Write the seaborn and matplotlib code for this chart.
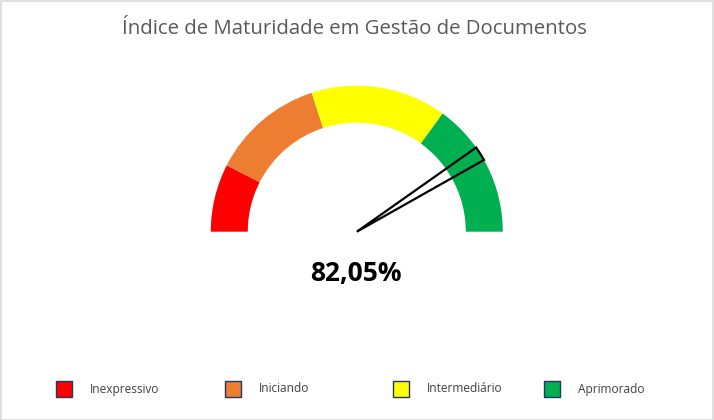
import matplotlib
matplotlib.use("Agg")
import matplotlib.pyplot as plt
from matplotlib.patches import Rectangle
import seaborn as sns

# ---- data ----
categories = ["Inexpressivo", "Iniciando", "Intermediário", "Aprimorado"]
band_sizes = [15, 25, 30, 30]          # percent of the half circle
band_colors = ["#FF0000", "#ED7D31", "#FFFF00", "#00B050"]
value = 82.05                          # percent
value_label = "82,05%"
title = "Índice de Maturidade em Gestão de Documentos"

# ---- layout ----
W, H = 714, 420
CX, CY, R = 356.8, 231.7, 146.0        # gauge centre / radius in px
RING = 37.0 / 146.0                    # ring thickness relative
NEEDLE_W = 3.2                         # needle width (units of half=100)
legend_x = [64, 233, 401, 552]
legend_y = 389

sns.set_theme(style="white")
plt.rcParams["font.family"] = ["Open Sans", "DejaVu Sans"]

fig = plt.figure(figsize=(W / 100, H / 100), dpi=100)
fig.patch.set_facecolor("white")

# overlay axes in pixel coordinates
ov = fig.add_axes([0, 0, 1, 1])
ov.set_xlim(0, W)
ov.set_ylim(H, 0)
ov.axis("off")

# gauge axes
pad = 1.05
size = 2 * R * pad
gx = fig.add_axes([(CX - size / 2) / W, (H - CY - size / 2) / H, size / W, size / H])
gx.axis("off")

sizes = band_sizes + [sum(band_sizes)]
colors = band_colors + ["none"]
wedges, _ = gx.pie(sizes, colors=colors, startangle=180, counterclock=False,
                   radius=1.0, wedgeprops=dict(width=RING, linewidth=0))
wedges[-1].set_visible(False)

total = 2 * sum(band_sizes)
needle_sizes = [value - NEEDLE_W / 2, NEEDLE_W, total - value - NEEDLE_W / 2]
nw, _ = gx.pie(needle_sizes, colors=["none", "none", "none"], startangle=180,
               counterclock=False, radius=1.0,
               wedgeprops=dict(linewidth=0))
nw[0].set_visible(False)
nw[2].set_visible(False)
nw[1].set_facecolor("none")
nw[1].set_edgecolor("black")
nw[1].set_linewidth(1.6)
nw[1].set_zorder(5)
gx.set_xlim(-pad, pad)
gx.set_ylim(-pad, pad)

# title
ov.text(W / 2 - 2.5, 29.5, title, ha="center", va="center", fontsize=14.7,
        color="#595959")

# value label
ov.text(355.5, 273.5, value_label, ha="center", va="center", fontsize=19,
        fontweight="bold", color="black")

# legend swatches
sns.scatterplot(x=legend_x, y=[legend_y] * 4, hue=categories,
                palette=band_colors, marker="s", s=118, edgecolor="#1F3864",
                linewidth=1.0, legend=False, ax=ov, zorder=3)
ov.set_xlim(0, W)
ov.set_ylim(H, 0)
ov.axis("off")
for x, lab in zip(legend_x, categories):
    ov.text(x + 26, legend_y, lab, ha="left", va="center", fontsize=8.6,
            color="#404040")

# outer frame
fig.patches.append(Rectangle((0.5 / W, 0.5 / H), 1 - 1.5 / W, 1 - 1.5 / H,
                             transform=fig.transFigure, fill=False,
                             edgecolor="#D9D9D9", linewidth=1.2))

fig.savefig("out.png", dpi=100, facecolor="white")
